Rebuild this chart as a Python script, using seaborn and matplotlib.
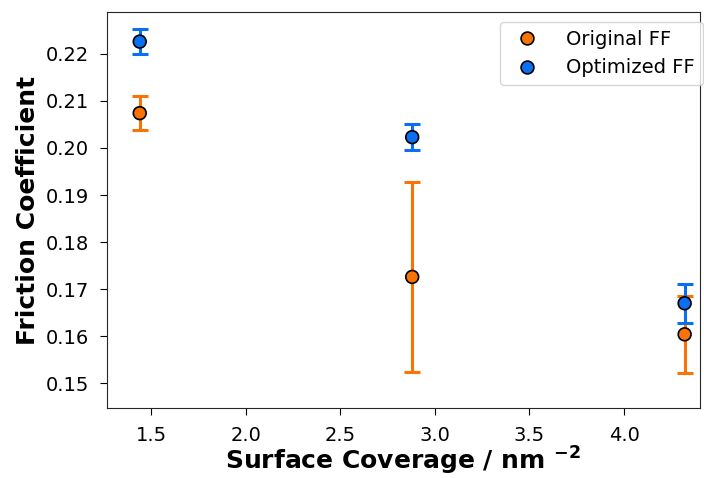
import pandas as pd
import matplotlib
matplotlib.use("Agg")
import matplotlib.pyplot as plt
import seaborn as sns

sns.set_style("ticks", {'text.color': 'black', 'axes.labelcolor': 'black',
                        'xtick.color': 'black', 'ytick.color': 'black'})
plt.rcParams['font.family'] = ['DejaVu Sans']

# valores
cobertura = [1.44, 2.88, 4.32]
atritoOriginal = [0.2074, 0.1726, 0.1604]
erroOriginal = [0.0036, 0.0202, 0.0082]
atritoOtimizado = [0.2226, 0.2023, 0.1670]
erroOtimizado = [0.0027, 0.0028, 0.0041]
rotulos = ['Original FF', 'Optimized FF']
cores = {'Original FF': '#f97306', 'Optimized FF': '#0a6ff0'}

dados = pd.DataFrame({
    'cobertura': cobertura * 2,
    'atrito': atritoOriginal + atritoOtimizado,
    'erro': erroOriginal + erroOtimizado,
    'campo': [rotulos[0]] * 3 + [rotulos[1]] * 3,
})

fig = plt.figure(figsize=(7.04, 4.78), dpi=100)
ax = fig.add_axes([0.152, 0.146, 0.842, 0.829])

# barras de erro primeiro, marcadores por cima
for rotulo in rotulos:
    sub = dados[dados['campo'] == rotulo]
    ax.errorbar(sub['cobertura'], sub['atrito'], yerr=sub['erro'], fmt='none',
                ecolor=cores[rotulo], elinewidth=2.2, capsize=6, capthick=2.2, zorder=2)

sns.scatterplot(data=dados, x='cobertura', y='atrito', hue='campo', palette=cores,
                s=85, edgecolor='black', linewidth=1.2, zorder=3, ax=ax)

ax.set_xlim(1.267, 4.40)
ax.set_ylim(0.1447, 0.2289)
ax.set_yticks([0.15, 0.16, 0.17, 0.18, 0.19, 0.20, 0.21, 0.22])
ax.tick_params(labelsize=14, length=5, pad=8)
ax.set_xlabel(r'Surface Coverage / nm $\mathbf{^{-2}}$', fontsize=18, weight='bold', labelpad=0)
ax.set_ylabel('Friction Coefficient', fontsize=18, weight='bold', labelpad=4)
ax.legend(title=None, fontsize=14, loc='upper right', bbox_to_anchor=(1.005, 0.975),
          borderaxespad=0, handletextpad=1.0)

fig.savefig('out.png', dpi=100)
